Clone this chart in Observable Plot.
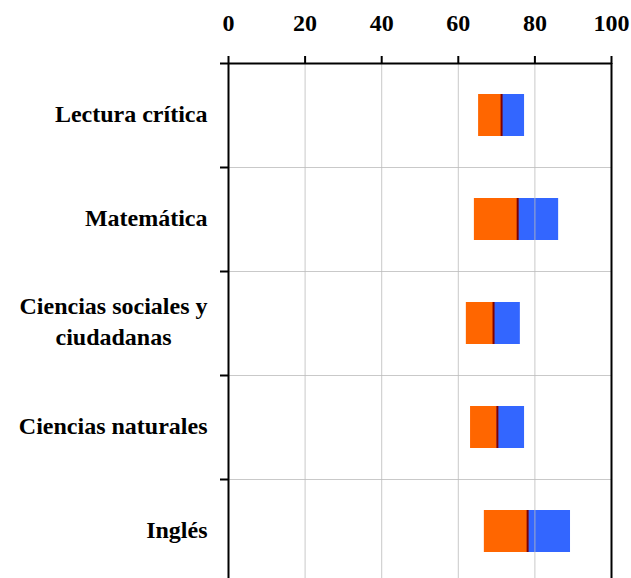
<!DOCTYPE html>
<html>
<head>
<meta charset="utf-8">
<script src="https://cdn.jsdelivr.net/npm/d3@7"></script>
<script src="https://cdn.jsdelivr.net/npm/@observablehq/plot@0.6"></script>
<style>
  html, body { margin: 0; padding: 0; background: white; overflow: hidden; }
</style>
</head>
<body>
<script>
const categories = ["Lectura crítica", "Matemática", "Ciencias sociales y\nciudadanas", "Ciencias naturales", "Inglés"];
const q1 = [65.3, 64.2, 62.1, 63.2, 66.8];
const median = [71.3, 75.5, 69.2, 70.2, 78.1];
const q3 = [77.3, 86.2, 76.2, 77.3, 89.3];
const xTicks = [0, 20, 40, 60, 80, 100];
const gridTicks = [20, 40, 60, 80];

const rows = categories.map((c, i) => ({cat: c, q1: q1[i], med: median[i], q3: q3[i]}));

const W = 631, H = 583, mTop = 63, mBottom = 0, mLeft = 228, mRight = 20;
const step = (H - mTop - mBottom) / categories.length;
const font = "'Liberation Serif', 'Times New Roman', serif";

const chart = Plot.plot({
  width: W,
  height: H,
  marginTop: mTop,
  marginBottom: mBottom,
  marginLeft: mLeft,
  marginRight: mRight,
  style: {fontFamily: font, fontSize: "24px", fontWeight: "bold", background: "white", color: "black", overflow: "visible"},
  x: {domain: [0, 100]},
  y: {domain: categories, paddingInner: 0.596, paddingOuter: 0.298},
  marks: [
    Plot.barX(rows, {y: "cat", x1: "q1", x2: "med", fill: "#FF6600"}),
    Plot.barX(rows, {y: "cat", x1: "med", x2: "q3", fill: "#3366FF"}),
    Plot.tickX(rows, {y: "cat", x: "med", stroke: "#800000", strokeWidth: 2}),
    Plot.gridX(gridTicks, {stroke: "#bbbbbb", strokeOpacity: 0.8, strokeWidth: 1}),
    Plot.gridY(categories.slice(0, -1), {dy: step / 2, stroke: "#bbbbbb", strokeOpacity: 0.8, strokeWidth: 1}),
    Plot.axisX(xTicks, {anchor: "top", tickSize: 8, tickPadding: 25, strokeWidth: 2, fontSize: 24, fontWeight: "bold", label: null}),
    Plot.axisY({tickSize: 0, tickPadding: 21, dy: -4, fontSize: 24, fontWeight: "bold", lineHeight: 1.32, label: null}),
    Plot.axisY(categories, {tickSize: 8, tickFormat: null, dy: step / 2, strokeWidth: 2, label: null}),
    Plot.axisY([categories[0]], {tickSize: 8, tickFormat: null, dy: -step / 2, strokeWidth: 2, label: null}),
    Plot.ruleY([categories[0]], {x1: 0, x2: 100, dy: -step / 2, stroke: "black", strokeWidth: 2}),
    Plot.ruleX([0, 100], {stroke: "black", strokeWidth: 2})
  ]
});

document.body.appendChild(chart);

// center the lines of multi-line category labels within their right-aligned block
chart.querySelectorAll('g[aria-label="y-axis tick label"] text').forEach(t => {
  const spans = t.querySelectorAll("tspan");
  if (spans.length < 2) return;
  const b0 = t.getBBox();
  const center = b0.x + b0.width / 2;
  t.setAttribute("text-anchor", "middle");
  spans.forEach(s => {
    s.setAttribute("text-anchor", "middle");
    const bb = s.getBBox();
    const c = bb.x + bb.width / 2;
    const x0 = parseFloat(s.getAttribute("x") || 0);
    s.setAttribute("x", x0 + (center - c));
  });
});
</script>
</body>
</html>
